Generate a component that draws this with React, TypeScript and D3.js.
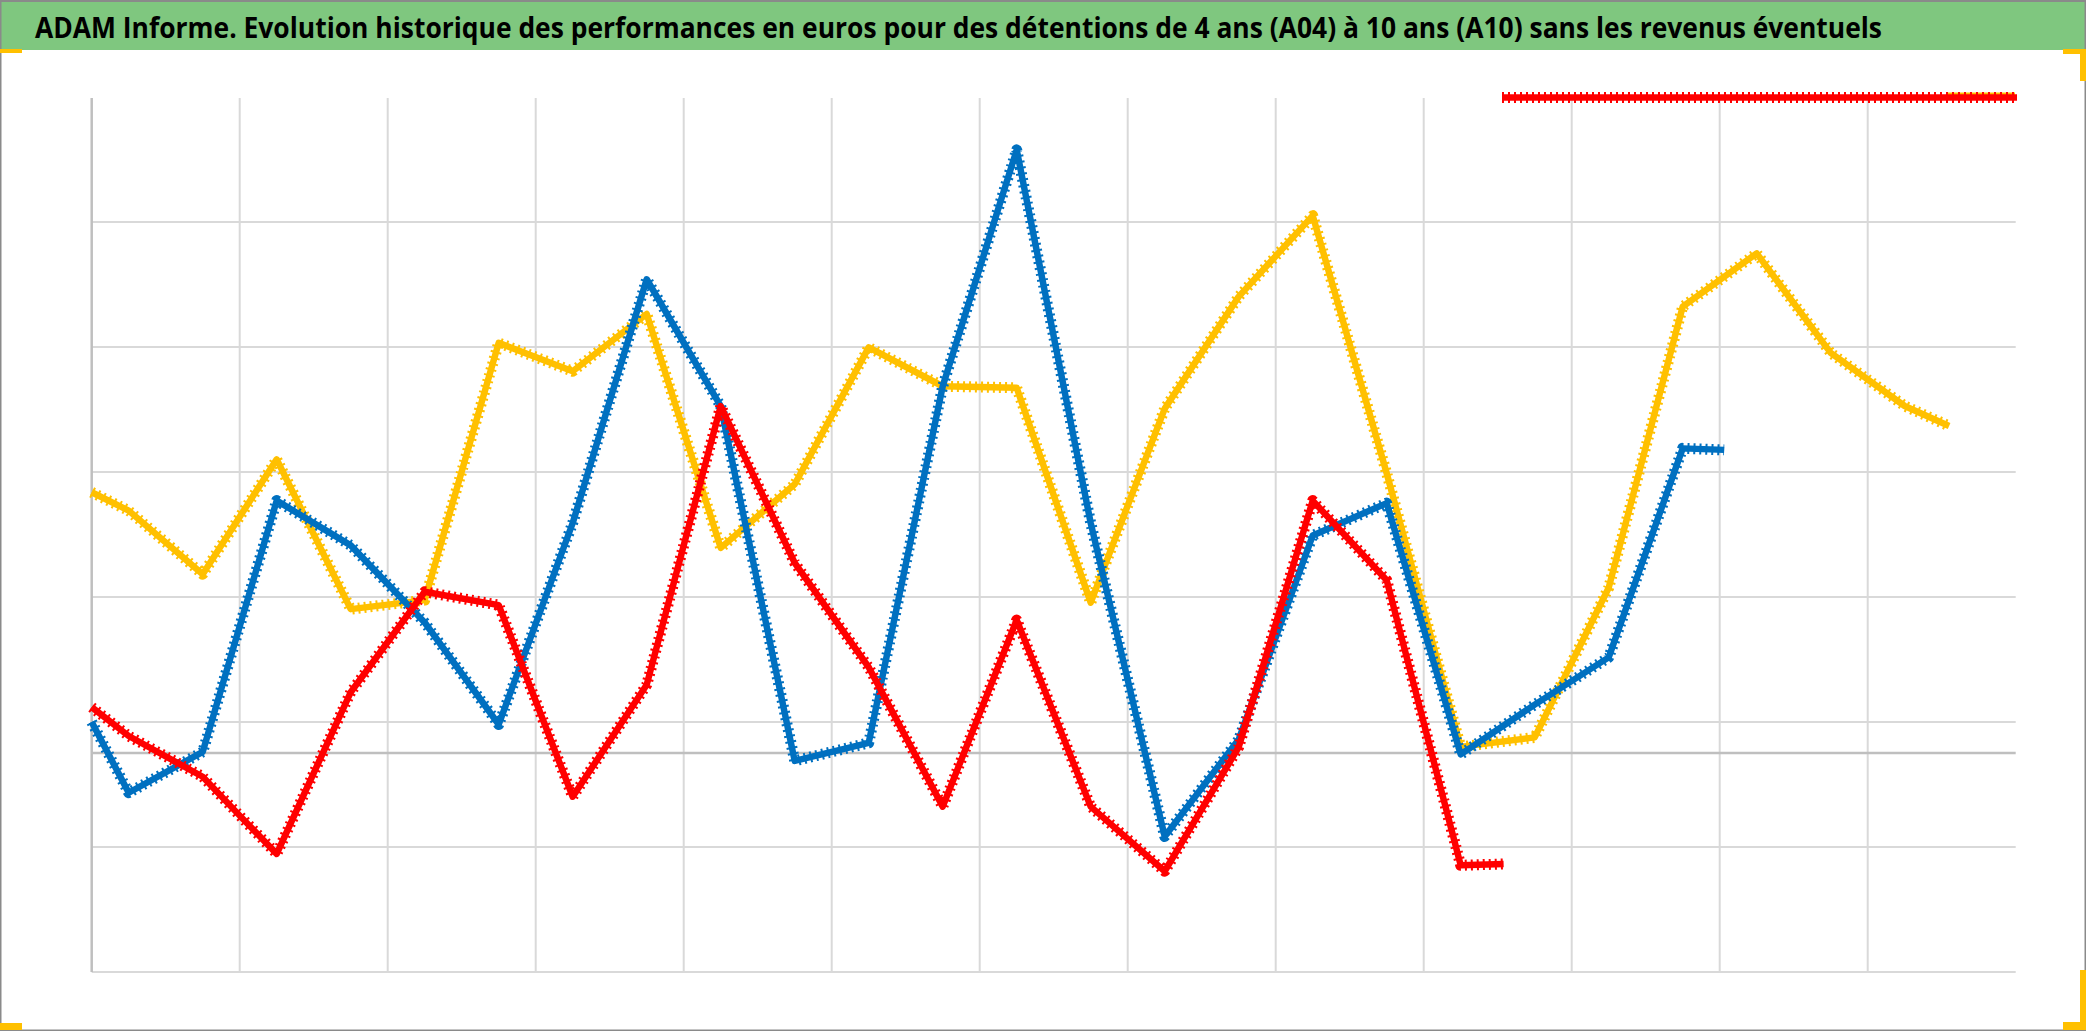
import React from "react";
import * as d3 from "d3";

const TITLE =
  "ADAM Informe. Evolution historique des performances en euros pour des détentions de 4 ans (A04) à 10 ans (A10) sans les revenus éventuels";

// x positions in years from the start of the period (one grid column = 1 year)
const yellowX = [0, 0.25, 0.75, 1.25, 1.75, 2.25, 2.75, 3.25, 3.75, 4.25, 4.75, 5.25, 5.75, 6.25, 6.75, 7.25, 7.75, 8.25, 8.75, 9.25, 9.75, 10.25, 10.75, 11.25, 11.75, 12.25, 12.55];
const yellowY = [2.086, 1.939, 1.43, 2.349, 1.151, 1.223, 3.281, 3.054, 3.512, 1.641, 2.15, 3.245, 2.934, 2.922, 1.203, 2.755, 3.651, 4.299, 2.238, 0.049, 0.125, 1.322, 3.571, 3.997, 3.201, 2.776, 2.616];

const blueX = [0, 0.25, 0.75, 1.25, 1.75, 2.25, 2.75, 3.25, 3.75, 4.25, 4.75, 5.25, 5.75, 6.25, 6.75, 7.25, 7.75, 8.25, 8.75, 9.25, 9.75, 10.25, 10.75, 11.03];
const blueY = [0.248, -0.318, 0.009, 2.019, 1.661, 1.044, 0.228, 1.84, 3.79, 2.775, -0.063, 0.081, 2.934, 4.825, 1.84, -0.668, 0.108, 1.74, 1.999, -0.011, 0.387, 0.765, 2.437, 2.425];

const redX = [0, 0.25, 0.75, 1.0, 1.25, 1.75, 2.25, 2.75, 3.25, 3.75, 4.25, 4.75, 5.25, 5.75, 6.25, 6.75, 7.25, 7.75, 8.25, 8.75, 9.25, 9.54];
const redY = [0.367, 0.136, -0.19, -0.501, -0.807, 0.486, 1.29, 1.183, -0.35, 0.546, 2.775, 1.521, 0.686, -0.429, 1.064, -0.429, -0.946, 0.048, 2.019, 1.382, -0.898, -0.888];

const X_DOMAIN = [0, 13];
const Y_DOMAIN = [-1.752, 5.248];
const X_GRID = [1, 2, 3, 4, 5, 6, 7, 8, 9, 10, 11, 12];
const Y_GRID = [-1.752, -0.752, 0.248, 1.248, 2.248, 3.248, 4.248];

const SERIES = [
  { name: "A10", xs: yellowX, ys: yellowY, color: "#FFC000" },
  { name: "A07", xs: blueX, ys: blueY, color: "#0070C0" },
  { name: "A04", xs: redX, ys: redY, color: "#FF0000" },
];

const W = 2086;
const H = 1031;
const PLOT = { left: 91.7, right: 2015.7, top: 97, bottom: 972 };

export default function App() {
  const x = d3.scaleLinear().domain(X_DOMAIN).range([PLOT.left, PLOT.right]);
  const y = d3.scaleLinear().domain(Y_DOMAIN).range([PLOT.bottom, PLOT.top]);
  const line = d3
    .line<[number, number]>()
    .x((d) => x(d[0]))
    .y((d) => y(d[1]));

  const gridColor = "#D9D9D9";
  const orange = "#FFC000";

  return (
    <svg
      width={W}
      height={H}
      style={{ position: "absolute", left: 0, top: 0, background: "#fff" }}
    >
      <rect x={0} y={0} width={W} height={H} fill="#fff" />
      {/* title bar */}
      <rect x={0} y={0} width={W} height={50} fill="#7FC77F" />
      <line x1={0} y1={1} x2={W} y2={1} stroke="#8a8a8a" strokeWidth={2} />
      <text
        x={35}
        y={38}
        fontFamily="'Liberation Sans Narrow', 'Arial Narrow', 'Open Sans', sans-serif"
        fontWeight="bold"
        fontSize={29}
        fill="#000"
        textLength={1847}
        lengthAdjust="spacingAndGlyphs"
      >
        {TITLE}
      </text>

      {/* gridlines */}
      {Y_GRID.map((v, i) => (
        <line
          key={"h" + i}
          x1={PLOT.left}
          x2={PLOT.right}
          y1={y(v)}
          y2={y(v)}
          stroke={gridColor}
          strokeWidth={2}
        />
      ))}
      {X_GRID.map((u, i) => (
        <line
          key={"v" + i}
          x1={x(u)}
          x2={x(u)}
          y1={PLOT.top + 1}
          y2={PLOT.bottom}
          stroke={gridColor}
          strokeWidth={2}
        />
      ))}
      {/* axes */}
      <line x1={x(0)} x2={x(0)} y1={PLOT.top + 1} y2={PLOT.bottom} stroke="#BFBFBF" strokeWidth={2.5} />
      <line x1={PLOT.left} x2={PLOT.right} y1={y(0)} y2={y(0)} stroke="#BFBFBF" strokeWidth={2.5} />

      {/* series */}
      {SERIES.map((s) => {
        const pts = s.xs.map((v, i) => [v, s.ys[i]] as [number, number]);
        const d = line(pts) || "";
        return (
          <g key={s.name}>
            <path d={d} fill="none" stroke={s.color} strokeWidth={6.5} strokeLinejoin="round" />
            <path
              d={d}
              fill="none"
              stroke={s.color}
              strokeWidth={11}
              strokeDasharray="2 4"
              strokeLinejoin="round"
            />
          </g>
        );
      })}

      {/* legend (entries stacked on top of each other) */}
      <line x1={1948} x2={2015} y1={95} y2={95} stroke="#FFC000" strokeWidth={5} />
      <line x1={1502} x2={2017} y1={97.5} y2={97.5} stroke="#FF0000" strokeWidth={6.5} />
      <line x1={1502} x2={2017} y1={97.5} y2={97.5} stroke="#FF0000" strokeWidth={11} strokeDasharray="2 4" />

      {/* outer frame */}
      <rect x={0.75} y={0.75} width={W - 1.5} height={H - 1.5} fill="none" stroke="#8a8a8a" strokeWidth={1.5} />

      {/* selection handles */}
      <rect x={0} y={49} width={22} height={4} fill={orange} />
      <rect x={2063} y={49} width={23} height={5} fill={orange} />
      <rect x={2080} y={49} width={6} height={32} fill={orange} />
      <rect x={2080} y={970} width={6} height={60} fill={orange} />
      <rect x={2063} y={1022} width={23} height={8} fill={orange} />
      <rect x={0} y={1023} width={22} height={7} fill={orange} />
    </svg>
  );
}
